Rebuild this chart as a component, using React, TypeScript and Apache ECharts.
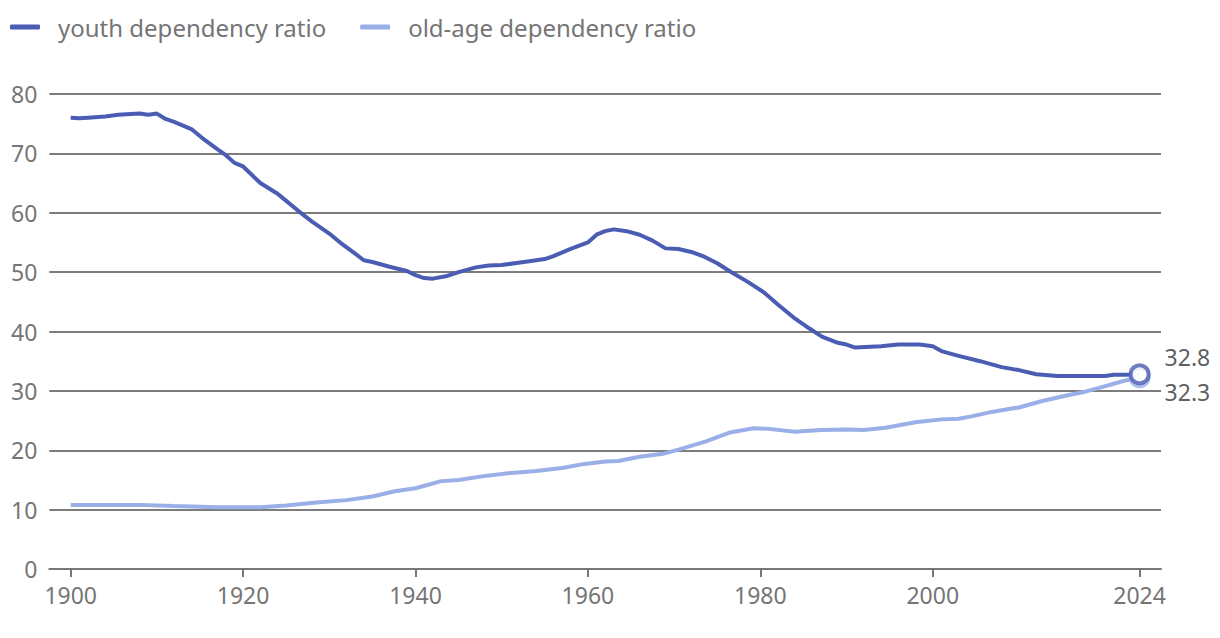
import React, { useEffect, useRef } from "react";
import * as echarts from "echarts";

const youthYears = [1900, 1901, 1902, 1904, 1905.5, 1908, 1909, 1910, 1911, 1912, 1914, 1915.5, 1917, 1918, 1919, 1920, 1921, 1922, 1924, 1925, 1926.5, 1928, 1929, 1930, 1931.5, 1933, 1934, 1935, 1937, 1939, 1940, 1941, 1942, 1943.5, 1945, 1947, 1948.5, 1950, 1951.5, 1953, 1955, 1956, 1958, 1960, 1961, 1962, 1963, 1964.5, 1966, 1967.5, 1969, 1970.5, 1972, 1973.5, 1975, 1976.5, 1978.5, 1980.5, 1982, 1984, 1985.7, 1987.2, 1989, 1990, 1991, 1994, 1996, 1998.5, 2000, 2001, 2003, 2005.5, 2008, 2010, 2012, 2014.5, 2017, 2020, 2021, 2022.5, 2024];
const youthValues = [76.0, 75.9, 76.0, 76.2, 76.5, 76.7, 76.5, 76.7, 75.8, 75.3, 74.1, 72.3, 70.7, 69.7, 68.4, 67.8, 66.4, 65.0, 63.2, 62.0, 60.2, 58.5, 57.5, 56.5, 54.7, 53.1, 52.0, 51.7, 50.9, 50.2, 49.5, 49.0, 48.9, 49.3, 50.0, 50.8, 51.1, 51.2, 51.5, 51.8, 52.2, 52.7, 53.9, 55.0, 56.3, 56.9, 57.2, 56.9, 56.3, 55.3, 54.0, 53.9, 53.4, 52.6, 51.5, 50.1, 48.4, 46.5, 44.6, 42.2, 40.5, 39.1, 38.1, 37.8, 37.3, 37.5, 37.8, 37.8, 37.5, 36.7, 35.9, 35.0, 34.0, 33.5, 32.8, 32.5, 32.5, 32.5, 32.7, 32.7, 32.8];

const oldYears = [1900, 1904, 1908, 1912, 1917, 1922, 1925, 1928.5, 1932, 1935, 1937.6, 1940, 1943, 1945, 1947.7, 1950.5, 1954, 1957, 1959.6, 1962, 1963.5, 1966, 1968.7, 1970.5, 1973.7, 1976.5, 1979.2, 1981, 1984, 1987, 1990, 1992, 1994.5, 1998, 2001, 2003, 2004.5, 2007, 2009, 2010, 2012.7, 2015.8, 2017.5, 2019.3, 2021, 2022.5, 2024];
const oldValues = [10.8, 10.8, 10.8, 10.6, 10.4, 10.4, 10.7, 11.2, 11.6, 12.2, 13.1, 13.6, 14.8, 15.0, 15.6, 16.1, 16.5, 17.0, 17.7, 18.1, 18.2, 18.9, 19.4, 20.1, 21.5, 23.0, 23.7, 23.6, 23.1, 23.4, 23.5, 23.4, 23.8, 24.7, 25.2, 25.3, 25.7, 26.5, 27.0, 27.2, 28.3, 29.3, 29.8, 30.5, 31.2, 31.8, 32.3];

const xTickValues = [1900, 1920, 1940, 1960, 1980, 2000, 2024];
const seriesNames = ["youth dependency ratio", "old-age dependency ratio"];

const YOUTH = "#4a5db3";
const OLD = "#9aaee8";
const FONT = "Noto Sans";

export default function App() {
  const ref = useRef<HTMLDivElement>(null);
  useEffect(() => {
    if (!ref.current) return;
    const chart = echarts.init(ref.current, undefined, { renderer: "svg" });
    const youth = youthYears.map((y, i) => [y, youthValues[i]]);
    const old = oldYears.map((y, i) => [y, oldValues[i]]);
    const lastYouth = youth[youth.length - 1];
    const lastOld = old[old.length - 1];
    chart.setOption({
      animation: false,
      textStyle: { fontFamily: FONT },
      legend: {
        left: 2,
        top: 7,
        padding: 0,
        itemWidth: 30,
        itemHeight: 5,
        itemGap: 34,
        icon: "roundRect",
        data: seriesNames,
        textStyle: { fontSize: 24, color: "#757575", fontFamily: FONT, padding: [0, 0, 0, 13] },
      },
      grid: { left: 41, right: 51, top: 86, bottom: 61, containLabel: false },
      xAxis: {
        type: "value",
        min: 1897.52,
        max: 2026.48,
        splitLine: { show: false },
        axisLine: { lineStyle: { color: "#777", width: 2 } },
        axisTick: { show: true, length: 8, lineStyle: { color: "#777", width: 2 }, customValues: xTickValues },
        axisLabel: {
          customValues: xTickValues,
          fontSize: 23,
          color: "#757575",
          margin: 14,
          fontFamily: FONT,
          formatter: (v: number) => String(v),
        },
      },
      yAxis: {
        type: "value",
        min: 0,
        max: 80,
        interval: 10,
        axisLine: { show: false },
        axisTick: { show: false },
        splitLine: { lineStyle: { color: "#7c7c7c", width: 2 } },
        axisLabel: { fontSize: 23, color: "#757575", margin: 12, fontFamily: FONT },
      },
      series: [
        {
          name: seriesNames[1],
          type: "line",
          data: old,
          showSymbol: false,
          lineStyle: { color: OLD, width: 4 },
          itemStyle: { color: OLD },
          z: 2,
        },
        {
          name: seriesNames[0],
          type: "line",
          data: youth,
          showSymbol: false,
          lineStyle: { color: YOUTH, width: 4 },
          itemStyle: { color: YOUTH },
          z: 3,
        },
        {
          type: "scatter",
          data: [lastOld],
          symbolSize: 18,
          itemStyle: { color: "#fff", borderColor: OLD, borderWidth: 4 },
          label: {
            show: true,
            position: "right",
            distance: 14,
            offset: [0, 15],
            formatter: (p: any) => p.value[1].toFixed(1),
            fontSize: 23,
            color: "#333",
            fontFamily: FONT,
          },
          z: 4,
        },
        {
          type: "scatter",
          data: [lastYouth],
          symbolSize: 18,
          itemStyle: { color: "#fff", borderColor: YOUTH, borderWidth: 4 },
          label: {
            show: true,
            position: "right",
            distance: 14,
            offset: [0, -17],
            formatter: (p: any) => p.value[1].toFixed(1),
            fontSize: 23,
            color: "#333",
            fontFamily: FONT,
          },
          z: 5,
        },
      ],
    });
    return () => chart.dispose();
  }, []);
  return <div ref={ref} style={{ width: 1204, height: 622 }} />;
}
